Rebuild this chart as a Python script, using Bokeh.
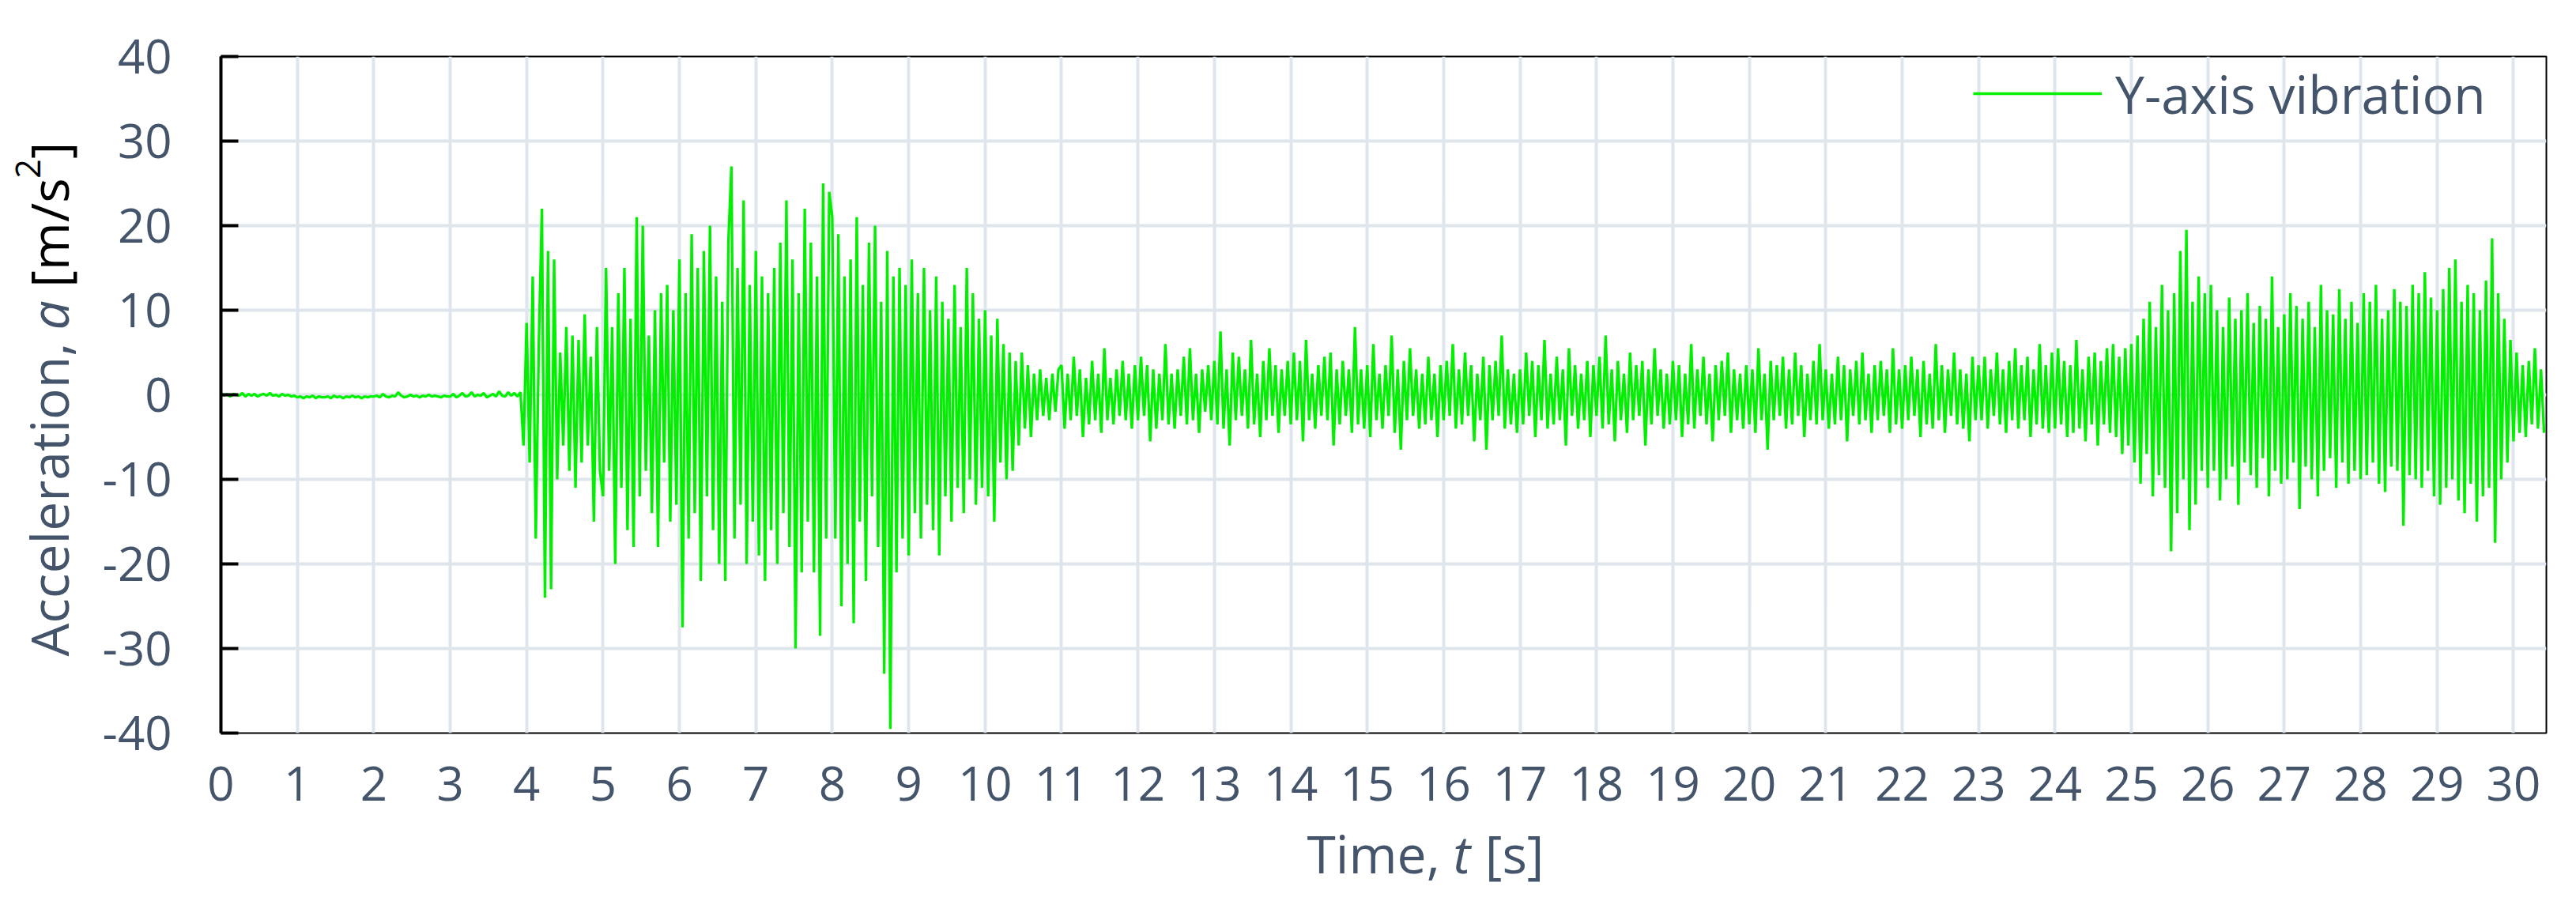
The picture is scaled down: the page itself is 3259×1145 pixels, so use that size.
import math
from bokeh.plotting import figure
from bokeh.models import FixedTicker, Label, Range1d
from bokeh.layouts import row, column
from bokeh.embed import file_html
from bokeh.resources import INLINE

# ---------------- data ----------------
DT = 0.04  # sampling step [s]
accel_y = [
    # 0 s
    0.2,-0.1,0.1,-0.2,0.1, 0.0,-0.1,0.2,-0.2,0.1, -0.1,0.1,-0.2,0.0,0.1, -0.1,0.2,-0.1,0.0,-0.2, 0.1,-0.1,0.0,-0.2,-0.1,
    # 1 s
    -0.3,-0.2,-0.4,-0.2,-0.3, -0.1,-0.4,-0.2,-0.3,-0.3, -0.2,-0.4,-0.1,-0.3,-0.2, -0.4,-0.2,-0.3,-0.1,-0.3, -0.2,-0.4,-0.2,-0.3,-0.2,
    # 2 s
    -0.2,-0.1,-0.3,0.1,-0.2, -0.3,-0.1,-0.2,0.3,-0.1, -0.3,-0.2,0.0,-0.2,-0.1, -0.3,-0.1,-0.2,0.0,-0.2, -0.1,-0.2,-0.3,-0.1,-0.2,
    # 3 s
    -0.2,0.1,-0.3,-0.1,0.2, -0.2,-0.1,0.3,-0.2,0.0, -0.1,0.2,-0.3,-0.1,0.1, -0.2,0.4,-0.1,-0.2,0.3, -0.1,0.2,-0.2,0.3,-6.0,
    # 4 s
    8.5,-8.0,14.0,-17.0,6.0, 22.0,-24.0,17.0,-23.0,16.0, -10.0,5.0,-6.0,8.0,-9.0, 7.0,-11.0,6.5,-8.0,9.5, -6.0,4.5,-15.0,8.0,-9.0,
    # 5 s
    -12.0,15.0,-9.0,8.0,-20.0, 12.0,-11.0,15.0,-16.0,9.0, -18.0,21.0,-12.0,20.0,-9.0, 7.0,-14.0,10.0,-18.0,12.0, -8.0,13.0,-15.0,10.0,-13.0,
    # 6 s
    16.0,-27.5,12.0,-17.0,19.0, -14.0,15.0,-22.0,17.0,-12.0, 20.0,-16.0,14.0,-20.0,11.0, -22.0,18.0,27.0,-17.0,15.0, -13.0,23.0,-20.0,13.0,-15.0,
    # 7 s
    17.0,-19.0,14.0,-22.0,12.0, -16.0,15.0,-20.0,18.0,-14.0, 23.0,-18.0,16.0,-30.0,12.0, -21.0,22.0,-15.0,18.0,-21.0, 14.0,-28.5,25.0,-17.0,24.0,
    # 8 s
    21.0,-17.0,19.0,-25.0,14.0, -20.0,16.0,-27.0,21.0,-15.0, 13.0,-22.0,18.0,-12.0,20.0, -18.0,11.0,-33.0,17.0,-39.5, 14.0,-21.0,15.0,-17.0,13.0,
    # 9 s
    -19.0,16.0,-14.0,12.0,-17.0, 15.0,-13.0,10.0,-16.0,14.0, -19.0,11.0,-12.0,9.0,-15.0, 13.0,-11.0,8.0,-14.0,15.0, -10.0,12.0,-13.0,9.0,-11.0,
    # 10 s
    10.0,-12.0,7.0,-15.0,9.0, -8.0,6.0,-10.0,5.0,-9.0, 4.0,-6.0,5.0,-4.0,3.5, -5.0,2.5,-3.0,3.0,-2.5, 2.0,-3.0,2.5,-2.0,3.0,
    # 11 s
    3.5,-4.0,2.5,-3.0,4.5, -2.5,3.0,-5.0,2.0,-3.5, 4.0,-3.0,2.5,-4.5,5.5, -3.0,2.0,-3.5,3.0,-2.5, 4.0,-3.0,2.5,-4.0,3.5,
    # 12 s
    -3.0,4.5,-2.5,3.5,-5.5, 3.0,-4.0,2.5,-3.0,6.0, -3.5,2.5,-4.0,3.0,-2.5, 4.5,-3.5,5.5,-3.0,2.5, -4.5,3.0,-2.0,3.5,-3.0,
    # 13 s
    4.0,-3.5,7.5,-4.0,3.0, -6.0,5.0,-3.0,4.5,-2.5, 3.0,-4.0,6.5,-3.5,2.5, -5.0,4.0,-3.0,5.5,-2.5, 3.5,-4.5,3.0,-2.5,4.0,
    # 14 s
    -3.5,5.0,-3.0,4.0,-5.5, 6.5,-3.0,2.5,-4.0,3.5, -2.5,4.5,-3.0,5.0,-6.0, 3.0,-3.5,4.0,-2.5,3.0, -4.5,8.0,-3.5,3.0,-4.0,
    # 15 s
    3.5,-5.0,6.0,-3.0,2.5, -4.0,3.5,-2.5,7.0,-4.5, 3.0,-6.5,4.0,-3.0,5.5, -2.5,3.0,-4.0,2.5,-3.5, 4.5,-3.0,2.5,-5.0,3.5,
    # 16 s
    -3.0,4.0,-2.5,6.0,-4.0, 3.0,-3.5,5.0,-2.5,3.5, -5.5,2.5,-3.0,4.5,-6.5, 3.5,-3.0,4.0,-2.5,7.0, -4.0,3.0,-3.5,2.5,-4.5,
    # 17 s
    3.0,-3.5,5.0,-2.5,4.0, -5.0,3.5,-3.0,6.5,-4.0, 2.5,-3.5,4.5,-3.0,3.0, -6.0,5.5,-2.5,3.5,-4.0, 2.5,-3.0,4.0,-5.0,3.5,
    # 18 s
    -2.5,4.5,-4.0,7.0,-3.5, 3.0,-5.5,4.0,-3.0,2.5, -4.5,5.0,-3.0,3.5,-2.5, 4.0,-6.0,3.0,-3.5,5.5, -2.5,3.0,-4.0,2.5,-3.5,
    # 19 s
    4.0,-3.0,3.5,-5.0,2.5, -3.5,6.0,-4.0,3.0,-2.5, 4.5,-3.5,2.5,-5.5,3.5, -3.0,4.0,-2.5,5.0,-4.5, 3.0,-3.0,2.5,-4.0,3.5,
    # 20 s
    -3.5,3.0,-4.5,5.5,-3.0, 2.5,-6.5,4.0,-3.0,3.5, -2.5,4.5,-4.0,3.0,-3.5, 5.0,-2.5,3.5,-5.0,2.5, -3.0,4.0,-3.5,6.0,-3.0,
    # 21 s
    3.0,-4.0,2.5,-3.5,4.5, -3.0,3.5,-5.5,3.0,-2.5, 4.0,-3.5,5.0,-3.0,2.5, -4.5,3.5,-3.0,4.0,-2.5, 3.0,-4.5,5.5,-3.5,3.0,
    # 22 s
    -4.0,3.5,-3.0,4.5,-2.5, 3.0,-5.0,4.0,-3.5,2.5, -4.0,6.0,-3.0,3.5,-4.5, 3.0,-2.5,5.0,-3.5,3.0, -4.0,2.5,-5.5,4.5,-3.0,
    # 23 s
    3.5,-3.0,4.5,-4.0,3.0, -2.5,5.0,-3.5,3.0,-4.5, 4.0,-3.0,5.5,-4.0,3.5, -3.0,4.5,-5.0,3.0,-3.5, 6.0,-4.0,3.5,-4.5,5.0,
    # 24 s
    -4.0,5.5,-3.5,4.0,-5.0, 3.5,-4.5,6.5,-4.0,3.0, -5.5,4.5,-3.5,5.0,-6.0, 4.0,-3.5,5.5,-4.5,6.0, -5.0,4.5,-7.0,5.5,-6.0,
    # 25 s
    6.0,-8.0,7.0,-10.5,9.0, -7.0,11.0,-12.0,8.0,-9.5, 13.0,-11.0,10.0,-18.5,12.0, -14.0,17.0,-10.0,19.5,-16.0, 11.0,-13.0,14.0,-9.0,12.0,
    # 26 s
    -11.0,13.0,-9.0,10.0,-12.5, 8.0,-10.0,11.5,-8.5,9.0, -13.0,10.0,-8.0,12.0,-9.5, 8.5,-11.0,10.5,-7.5,9.0, -12.0,14.0,-9.0,8.0,-10.5,
    # 27 s
    9.5,-10.0,12.0,-8.0,10.5, -13.5,9.0,-8.5,11.0,-10.0, 8.0,-12.0,13.0,-9.0,10.0, -7.5,9.5,-11.0,12.5,-8.0, 9.0,-10.5,11.0,-9.0,8.5,
    # 28 s
    -10.0,12.0,-9.5,11.0,-8.0, 13.0,-10.5,9.0,-11.5,10.0, -8.5,12.5,-9.0,11.0,-15.5, 10.5,-9.5,13.0,-10.0,12.0, -11.0,14.5,-9.0,11.5,-12.0,
    # 29 s
    10.0,-13.0,12.5,-11.0,15.0, -10.0,16.0,-12.5,11.0,-14.0, 13.0,-10.5,12.0,-15.0,10.0, -12.0,13.5,-11.0,18.5,-17.5, 12.0,-10.0,9.0,-8.0,6.5,
    # 30 s
    -5.5,5.0,-4.5,3.5,-5.0, 4.0,-3.5,5.5,-4.0,3.0, -4.5,
]
time_s = [i * DT for i in range(len(accel_y))]

x_ticks = list(range(0, 31))
y_ticks = [-40, -30, -20, -10, 0, 10, 20, 30, 40]
y_tick_labels = {v: str(v) for v in y_ticks}
series_name = "Y-axis vibration"

# ---------------- styling ----------------
FONT = "Open Sans"
TXT = "#44546A"
GREEN = "#00F000"
GRID = "#DEE5EC"

LEFT_W = 126      # strip holding the y-axis title
MAIN_W = 3114
MAIN_H = 1053
BOT_H = 88        # strip holding the x-axis title
TOTAL_H = MAIN_H + BOT_H

p = figure(width=MAIN_W, height=MAIN_H, output_backend="svg", toolbar_location=None,
           x_range=Range1d(0, 30.43), y_range=Range1d(-40, 40))
p.min_border_left = 150
p.min_border_right = 19
p.min_border_top = 71
p.min_border_bottom = 126
p.background_fill_color = "white"
p.border_fill_color = "white"
p.outline_line_color = "black"
p.outline_line_width = 2

p.line(time_s, accel_y, line_color=GREEN, line_width=3.3, legend_label=series_name)

# grids
for g in (p.xgrid[0], p.ygrid[0]):
    g.grid_line_color = GRID
    g.grid_line_width = 4
p.xgrid[0].ticker = FixedTicker(ticks=x_ticks)
p.ygrid[0].ticker = FixedTicker(ticks=y_ticks)

# x axis
xa = p.xaxis[0]
xa.ticker = FixedTicker(ticks=x_ticks)
xa.axis_line_color = None
xa.major_tick_line_color = None
xa.minor_tick_line_color = None
xa.major_label_text_font = FONT
xa.major_label_text_font_size = "60px"
xa.major_label_text_color = TXT
xa.major_label_standoff = 36

# y axis
ya = p.yaxis[0]
ya.ticker = FixedTicker(ticks=y_ticks)
ya.major_label_overrides = y_tick_labels
ya.axis_line_color = "black"
ya.axis_line_width = 4
ya.major_tick_line_color = "black"
ya.major_tick_line_width = 4
ya.major_tick_in = 22
ya.major_tick_out = 0
ya.minor_tick_line_color = None
ya.major_label_text_font = FONT
ya.major_label_text_font_size = "60px"
ya.major_label_text_color = TXT
ya.major_label_standoff = 62

# legend
lg = p.legend[0]
lg.location = (2217, 764)
lg.padding = 0
lg.margin = 0
lg.spacing = 0
lg.glyph_width = 163
lg.glyph_height = 20
lg.label_standoff = 17
lg.label_text_font = FONT
lg.label_text_font_size = "66px"
lg.label_text_color = TXT
lg.background_fill_alpha = 0
lg.border_line_color = None


def strip(w, h):
    f = figure(width=w, height=h, output_backend="svg", toolbar_location=None,
               x_axis_type=None, y_axis_type=None, min_border=0,
               x_range=Range1d(0, 1), y_range=Range1d(0, 1))
    f.outline_line_color = None
    f.background_fill_color = "white"
    f.border_fill_color = "white"
    return f


FS = 66
SPACE = 0.26 * FS
def em(w):
    return w * FS

# x title strip: "Time, t [s]"  (strip frame is aligned with the main plot frame)
xs = strip(MAIN_W, BOT_H)
xt_x, xt_y = 1374, 63
x_t = xt_x + em(2.544) + SPACE
x_unit = x_t + em(0.35) + SPACE
for txt, xx, sty in [("Time,", xt_x, "normal"),
                     ("t", x_t, "italic"),
                     ("[s]", x_unit, "normal")]:
    xs.add_layout(Label(x=xx, y=xt_y, x_units="screen", y_units="screen", text=txt,
                        text_font=FONT, text_font_style=sty, text_font_size=f"{FS}px",
                        text_color=TXT, text_align="left", text_baseline="alphabetic"))

# y title strip: "Acceleration, a [m/s²]" rotated
ys = strip(LEFT_W, TOTAL_H)
yt_x, yt_y = 60, 311
ang = math.pi / 2
SUP = 43
y_a = yt_y + em(5.996) + SPACE
y_unit = y_a + em(0.556) + SPACE
y_sup = y_unit + em(2.09)
y_close = y_sup + 0.572 * SUP
pieces = [
    ("Acceleration,", yt_y, yt_x, TXT, "normal", FS),
    ("a", y_a, yt_x, TXT, "italic", FS),
    ("[m/s", y_unit, yt_x, "black", "normal", FS),
    ("2", y_sup, yt_x - 25, "black", "normal", SUP),
    ("]", y_close, yt_x, "black", "normal", FS),
]
for txt, yy, xx, col, sty, fs in pieces:
    ys.add_layout(Label(x=xx, y=yy, x_units="screen", y_units="screen", text=txt, angle=ang,
                        text_font=FONT, text_font_style=sty, text_font_size=f"{fs}px",
                        text_color=col, text_align="left", text_baseline="alphabetic"))

layout = row(ys, column(p, xs, spacing=0), spacing=0)

open("out.html", "w").write(file_html(layout, INLINE))
